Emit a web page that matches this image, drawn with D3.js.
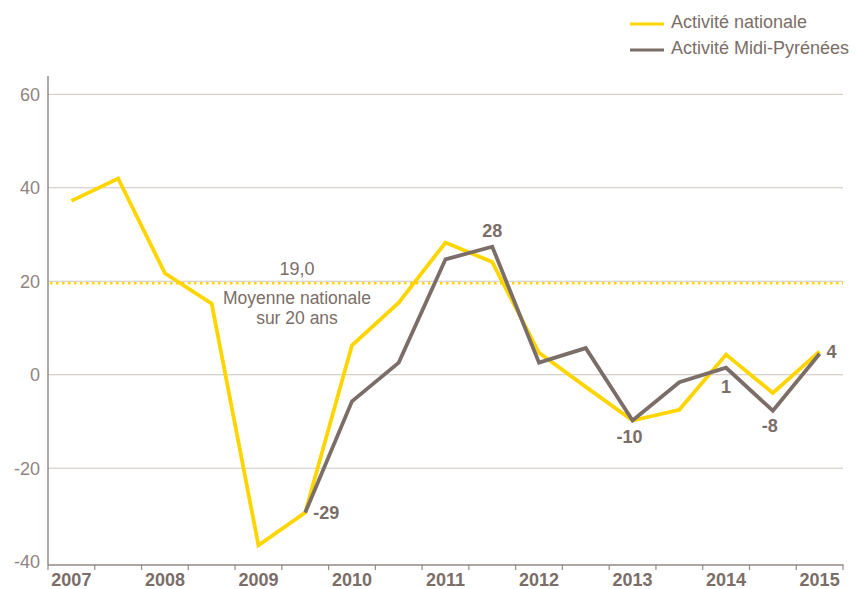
<!DOCTYPE html>
<html>
<head>
<meta charset="utf-8">
<script src="https://cdn.jsdelivr.net/npm/d3@7"></script>
<style>
  body { margin: 0; background: #fff; }
  text { font-family: "Liberation Sans", Arial, sans-serif; }
</style>
</head>
<body>
<div id="chart"></div>
<script>
// half-year periods, 2007 S1 .. 2015 S1
let periods = ["2007-1","2007-2","2008-1","2008-2","2009-1","2009-2","2010-1","2010-2",
               "2011-1","2011-2","2012-1","2012-2","2013-1","2013-2","2014-1","2014-2","2015-1"];
let yearLabels = ["2007","2008","2009","2010","2011","2012","2013","2014","2015"];
let nationale = [37.2, 42.0, 21.7, 15.2, -36.5, -29.5, 6.3, 15.4, 28.3, 24.1, 4.7, -2.6, -9.8, -7.5, 4.3, -3.9, 5.0];
let midiPyrenees = [null, null, null, null, null, -29.5, -5.7, 2.6, 24.7, 27.4, 2.6, 5.7, -9.8, -1.6, 1.5, -7.7, 4.5];
let yTicks = [-40, -20, 0, 20, 40, 60];
let moyenne = 19.6;          // dotted line as drawn
let moyenneLabel = "19,0";
let moyenneNote = ["Moyenne nationale", "sur 20 ans"];
// value labels on the regional series: [period index, text]
let valueLabels = [[5, "-29"], [9, "28"], [12, "-10"], [14, "1"], [15, "-8"], [16, "4"]];

let width = 859, height = 589;
let padding = {top: 76, right: 16, bottom: 24, left: 48};

let yellow = "#ffd500", brown = "#7b6e68", textColor = "#7b6e68",
    tickColor = "#8f8580", gridColor = "#cdc5c1", axisColor = "#958a85";

let svg = d3.select("#chart").append("svg")
  .attr("width", width).attr("height", height);

let xScale = d3.scaleBand()
  .domain(periods)
  .range([padding.left, 843]);

let yScale = d3.scaleLinear()
  .domain([-40, 60])
  .range([561.7, 94.3]);

let axisBottom = 565;

// grid lines
svg.append("g").selectAll("line").data(yTicks.filter(d => d > -40))
  .enter().append("line")
  .attr("x1", padding.left).attr("x2", 843)
  .attr("y1", d => yScale(d)).attr("y2", d => yScale(d))
  .attr("stroke", gridColor).attr("stroke-width", 1);

// y tick labels
svg.append("g").selectAll("text").data(yTicks)
  .enter().append("text")
  .attr("x", 40).attr("y", d => yScale(d))
  .attr("dy", "0.36em")
  .attr("text-anchor", "end")
  .attr("fill", tickColor)
  .style("font-size", "18px")
  .text(d => d);

// average line
svg.append("line")
  .attr("x1", padding.left + 2).attr("x2", 843)
  .attr("y1", yScale(moyenne)).attr("y2", yScale(moyenne))
  .attr("stroke", yellow).attr("stroke-width", 2.5)
  .attr("stroke-dasharray", "2.5,3.5");

svg.append("text")
  .attr("x", 297).attr("y", yScale(moyenne) - 8)
  .attr("text-anchor", "middle").attr("fill", textColor)
  .style("font-size", "18px")
  .text(moyenneLabel);

svg.append("g").selectAll("text").data(moyenneNote)
  .enter().append("text")
  .attr("x", 297).attr("y", (d, i) => yScale(moyenne) + 21 + i * 19.5)
  .attr("text-anchor", "middle").attr("fill", textColor)
  .style("font-size", "17.5px")
  .text(d => d);

// axes lines
svg.append("line")
  .attr("x1", padding.left).attr("x2", padding.left)
  .attr("y1", padding.top).attr("y2", axisBottom)
  .attr("stroke", axisColor).attr("stroke-width", 1.5);

svg.append("line")
  .attr("x1", padding.left).attr("x2", 843.5)
  .attr("y1", axisBottom).attr("y2", axisBottom)
  .attr("stroke", axisColor).attr("stroke-width", 1.5);

// x ticks at band edges
let edges = periods.map(p => xScale(p)).concat([xScale.range()[1]]);
svg.append("g").selectAll("line").data(edges)
  .enter().append("line")
  .attr("x1", d => d).attr("x2", d => d)
  .attr("y1", axisBottom).attr("y2", axisBottom + 5)
  .attr("stroke", axisColor).attr("stroke-width", 1.2);

// year labels under first half of each year
svg.append("g").selectAll("text").data(yearLabels)
  .enter().append("text")
  .attr("x", d => xScale(d + "-1") + xScale.bandwidth() / 2)
  .attr("y", 586)
  .attr("text-anchor", "middle")
  .attr("fill", textColor)
  .style("font-size", "18px").style("font-weight", "bold")
  .text(d => d);

// lines
let line = d3.line()
  .defined(d => d[1] !== null)
  .x(d => xScale(d[0]) + xScale.bandwidth() / 2)
  .y(d => yScale(d[1]));

svg.append("path")
  .datum(periods.map((p, i) => [p, nationale[i]]))
  .attr("d", line)
  .attr("fill", "none").attr("stroke", yellow)
  .attr("stroke-width", 3.8).attr("stroke-linejoin", "miter");

svg.append("path")
  .datum(periods.map((p, i) => [p, midiPyrenees[i]]))
  .attr("d", line)
  .attr("fill", "none").attr("stroke", brown)
  .attr("stroke-width", 3.8).attr("stroke-linejoin", "miter");

// value labels
let labelOffset = {"-29": [8, 6, "start"], "28": [0, -10, "middle"], "-10": [-3, 22, "middle"],
                   "1": [0, 25, "middle"], "-8": [-3, 21, "middle"], "4": [7, 4, "start"]};
svg.append("g").selectAll("text").data(valueLabels)
  .enter().append("text")
  .attr("x", d => xScale(periods[d[0]]) + xScale.bandwidth() / 2 + labelOffset[d[1]][0])
  .attr("y", d => yScale(midiPyrenees[d[0]]) + labelOffset[d[1]][1])
  .attr("text-anchor", d => labelOffset[d[1]][2])
  .attr("fill", textColor)
  .style("font-size", "18px").style("font-weight", "bold")
  .text(d => d[1]);

// legend
let legend = svg.append("g");
let legendItems = [["Activité nationale", yellow], ["Activité Midi-Pyrénées", brown]];
legendItems.forEach((item, i) => {
  let y = 24 + i * 26;
  legend.append("line")
    .attr("x1", 630).attr("x2", 664)
    .attr("y1", y).attr("y2", y)
    .attr("stroke", item[1]).attr("stroke-width", 3);
  legend.append("text")
    .attr("x", 671).attr("y", y + 4)
    .attr("fill", textColor)
    .style("font-size", "18px")
    .text(item[0]);
});
</script>
</body>
</html>
